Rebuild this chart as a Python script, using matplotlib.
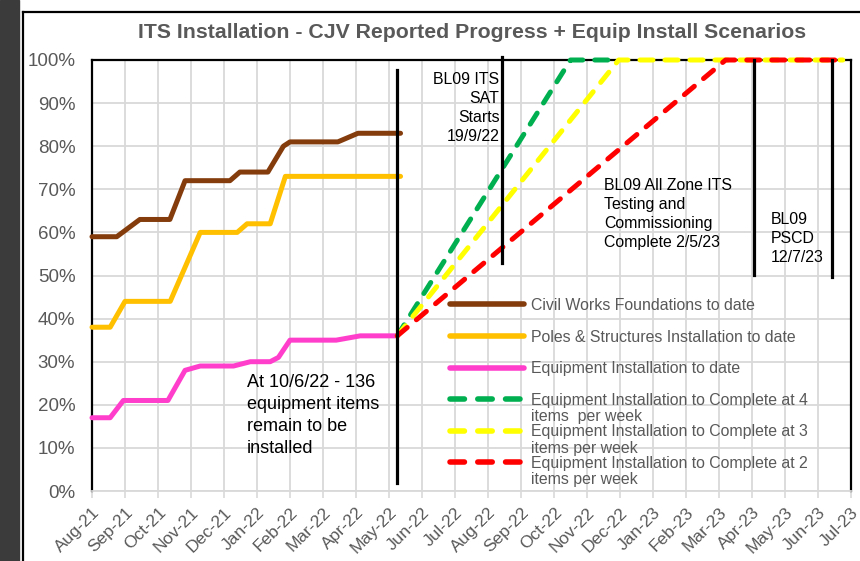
import matplotlib
matplotlib.use('Agg')
import matplotlib.pyplot as plt
from matplotlib.lines import Line2D
from matplotlib.patches import Rectangle

plt.rcParams['font.family'] = ['Liberation Sans', 'DejaVu Sans']

# x axis: month index, 0 = Aug-21
months = ['Aug-21', 'Sep-21', 'Oct-21', 'Nov-21', 'Dec-21', 'Jan-22', 'Feb-22',
          'Mar-22', 'Apr-22', 'May-22', 'Jun-22', 'Jul-22', 'Aug-22', 'Sep-22',
          'Oct-22', 'Nov-22', 'Dec-22', 'Jan-23', 'Feb-23', 'Mar-23', 'Apr-23',
          'May-23', 'Jun-23', 'Jul-23']

civil_x = [0, 0.75, 1.45, 2.36, 2.82, 4.18, 4.48, 5.33, 5.8, 6.0, 7.45, 8.06, 9.35]
civil_y = [59, 59, 63, 63, 72, 72, 74, 74, 80, 81, 81, 83, 83]

poles_x = [0, 0.55, 1.0, 2.37, 3.28, 4.4, 4.7, 5.4, 5.86, 9.35]
poles_y = [38, 38, 44, 44, 60, 60, 62, 62, 73, 73]

equip_x = [0, 0.55, 0.95, 2.3, 2.82, 3.28, 4.29, 4.8, 5.4, 5.65, 6.0, 7.4, 8.13, 9.25]
equip_y = [17, 17, 21, 21, 28, 29, 29, 30, 30, 31, 35, 35, 36, 36]

rate4_x = [9.25, 14.5, 15.93]
rate4_y = [36, 100, 100]
rate3_x = [9.25, 15.96, 22.75]
rate3_y = [36, 100, 100]
rate2_x = [9.25, 19.2, 22.75]
rate2_y = [36, 100, 100]

series_names = ['Civil Works Foundations to date',
                'Poles & Structures Installation to date',
                'Equipment Installation to date',
                'Equipment Installation to Complete at 4\nitems  per week',
                'Equipment Installation to Complete at 3\nitems per week',
                'Equipment Installation to Complete at 2\nitems per week']

# milestone lines: position, bottom %, top %
milestone_x = [9.24, 12.41, 20.07, 22.43]
milestone_lo = [1.9, 52.9, 50.1, 49.7]
milestone_hi = [97.7, 100.7, 100, 100]

gray = '#595959'
fig = plt.figure(figsize=(8.6, 5.61), dpi=100)
ax = fig.add_axes([92/860, 1-491/561, (851-92)/860, (491-60)/561])

# page decorations
fig.patches.append(Rectangle((0, 0), 19/860, 1, transform=fig.transFigure,
                             color='#3b3b3b', zorder=0))
fig.lines.append(Line2D([23/860, 23/860], [0, 1-12/561], transform=fig.transFigure,
                        color='black', lw=1.6))
fig.lines.append(Line2D([23/860, 1], [1-12/561, 1-12/561], transform=fig.transFigure,
                        color='black', lw=1.6))

solid = dict(lw=3.6, solid_capstyle='round', solid_joinstyle='round', clip_on=False)
dash = dict(lw=3.6, dashes=(2.6, 2.4), dash_capstyle='round', clip_on=False)
ax.plot(civil_x, civil_y, color='#843C0C', label=series_names[0], zorder=4, **solid)
ax.plot(poles_x, poles_y, color='#FFC000', label=series_names[1], zorder=4, **solid)
ax.plot(equip_x, equip_y, color='#FF3FCC', label=series_names[2], zorder=4, **solid)
ax.plot(rate4_x, rate4_y, color='#00B050', label=series_names[3], zorder=4, **dash)
ax.plot(rate3_x, rate3_y, color='#FFFF00', label=series_names[4], zorder=4, **dash)
ax.plot(rate2_x, rate2_y, color='#FF0000', label=series_names[5], zorder=4, **dash)

for mx, lo, hi in zip(milestone_x, milestone_lo, milestone_hi):
    ax.plot([mx, mx], [lo, hi], color='black', lw=2.3, zorder=5, clip_on=False)

ax.set_xlim(0, 23)
ax.set_ylim(0, 100)
ax.set_xticks(range(len(months)))
ax.set_xticklabels(months, rotation=45, ha='right', rotation_mode='anchor',
                   fontsize=12.5, color=gray)
ax.set_yticks(range(0, 101, 10))
ax.set_yticklabels([f'{v}%' for v in range(0, 101, 10)], fontsize=13.5, color=gray)
ax.tick_params(axis='y', length=0, pad=12)
ax.tick_params(axis='x', length=5, color='#d9d9d9', width=1.2, pad=5)
ax.grid(True, color='#d9d9d9', lw=1.3)
ax.set_axisbelow(True)
for s in ['top', 'left', 'right']:
    ax.spines[s].set_color('black')
    ax.spines[s].set_linewidth(1.6)
ax.spines['bottom'].set_color('#d9d9d9')
ax.spines['bottom'].set_linewidth(1.3)

fig.text(472/860, 1-32/561, 'ITS Installation - CJV Reported Progress + Equip Install Scenarios',
         ha='center', va='center', fontsize=15.3, fontweight='bold', color=gray)

# legend: first lines in the legend, second lines hung below
handles, labels = ax.get_legend_handles_labels()
leg = ax.legend(handles, [l.split('\n')[0] for l in labels], loc='upper left',
                bbox_to_anchor=(0.4717, 0.448), frameon=False, borderpad=0,
                borderaxespad=0, handlelength=4.7, handletextpad=0.4,
                labelspacing=1.05, prop={'size': 11.4})
for h in leg.legend_handles:
    h.set_linewidth(4)
for t, full in zip(leg.get_texts(), labels):
    t.set_color(gray)
    if '\n' in full:
        ax.annotate(full.split('\n', 1)[1], xy=(0, 0), xycoords=t, xytext=(0, -1),
                    textcoords='offset points', va='top', ha='left',
                    fontsize=11.4, color=gray, zorder=6)

# multi-line notes anchored at the baseline of their last line
note = dict(color='black', fontsize=11.4, linespacing=1.33, va='baseline', zorder=6)
ax.text(12.35, 81.3, 'BL09 ITS\nSAT\nStarts\n19/9/22', ha='right', multialignment='right', **note)
ax.text(15.53, 56.7, 'BL09 All Zone ITS\nTesting and\nCommissioning\nComplete 2/5/23', ha='left', **note)
ax.text(20.57, 53.1, 'BL09\nPSCD\n12/7/23', ha='left', **note)
ax.text(4.70, 8.8, 'At 10/6/22 - 136\nequipment items\nremain to be\ninstalled',
        ha='left', color='black', fontsize=13, linespacing=1.38, va='baseline', zorder=6)

fig.savefig('out.png', dpi=100)
